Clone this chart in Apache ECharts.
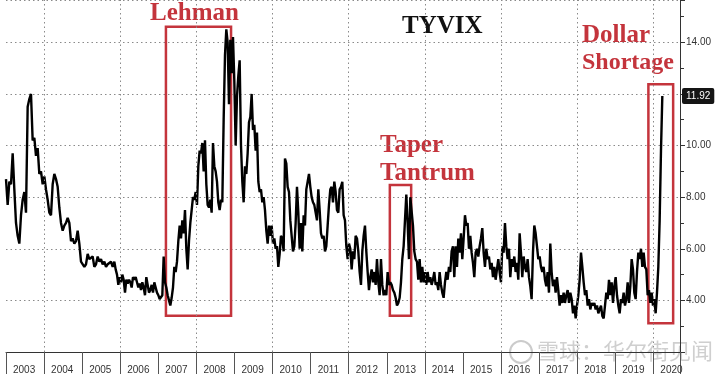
<!DOCTYPE html>
<html>
<head>
<meta charset="utf-8">
<script src="https://cdn.jsdelivr.net/npm/echarts@6/dist/echarts.min.js"></script>
<style>
html,body{margin:0;padding:0;background:#fff;}
#chart{width:720px;height:379px;}
</style>
</head>
<body>
<div id="chart"></div>
<script>
// TYVIX readings, evenly spaced observations within each segment
const start2003 = 2003.000, step2003 = 0.04377;
const tyvix2003 = [8.7, 7.7, 8.6, 8.5, 9.7, 8.3, 7.0, 6.5, 6.2, 7.3,
  7.9, 8.2, 7.4, 11.5, 11.8, 12.0, 10.2, 10.3, 9.6, 9.9,
  8.9, 9.0, 8.5, 8.8, 8.3, 7.9, 7.4, 7.3, 8.5, 8.9,
  8.7, 8.4, 7.6, 7.0, 6.7, 6.9, 7.0, 7.2, 7.0, 6.3,
  6.4, 6.2, 6.3, 6.7, 6.2, 5.5, 5.5, 5.3, 5.4, 5.8,
  5.6, 5.6, 5.7, 5.3, 5.4, 5.7, 5.5, 5.6, 5.4, 5.5,
  5.3, 5.4, 5.4, 5.5, 5.3, 5.5];
const step = 0.03501;
const start2005 = 2005.880;
const tyvix2005 = [5.2, 5.0, 4.6, 4.9, 4.7, 5.0, 4.8, 4.3, 4.8, 4.65,
  4.8, 4.7, 4.5, 4.9, 4.8, 4.9, 4.7, 4.5, 4.65, 4.4,
  4.7, 4.5, 4.2, 4.9, 4.6, 4.3, 4.4, 4.6, 4.3, 4.7,
  4.5, 4.3, 4.2, 4.05, 4.0, 4.2, 5.7, 4.7, 4.5, 4.2,
  4.0, 3.8, 4.1, 4.5, 5.3, 5.1, 5.5, 6.3, 6.9, 6.4,
  7.1, 6.6, 7.5, 6.0, 5.2, 6.3, 7.0, 7.5, 8.0, 7.9,
  8.2, 7.7, 9.2, 9.8, 9.7, 10.1, 9.0, 10.2, 8.5, 7.7,
  7.6, 7.9, 7.4, 10.1, 9.2, 9.0, 8.6, 7.8, 7.5, 7.9,
  7.8, 11.0, 13.5, 14.5, 14.0];
const start2008 = 2008.856;
const tyvix2008 = [11.6, 14.1, 12.8, 14.2, 12.5, 10.0, 11.9, 12.7, 13.3, 10.0,
  8.6, 7.8, 9.2, 8.9, 9.7, 10.9, 11.1, 12.0, 10.6, 10.8,
  9.8, 10.5, 8.6, 8.2, 8.3, 7.8, 8.0, 7.5, 6.7, 6.2,
  6.9, 6.5, 6.9, 6.2, 6.4, 6.0, 6.1, 5.3, 5.8, 6.5,
  6.4, 5.9, 9.5, 9.3, 8.4, 8.2, 7.1, 7.1, 5.9, 6.1,
  7.0, 8.4, 7.4, 6.0, 7.0, 5.9, 7.3, 6.9, 8.3, 8.6,
  8.9, 8.4, 8.0, 7.8, 7.7, 7.4, 7.1, 8.3, 7.5, 6.6,
  6.4, 6.5, 5.9, 6.1, 6.9, 7.7, 8.3, 8.4, 7.8, 8.6,
  8.2, 7.5, 7.4, 8.3];
const start2011 = 2011.797;
const tyvix2011 = [8.4, 8.6, 7.3, 7.1, 6.1, 5.6, 6.2, 6.0, 5.2, 5.9,
  5.6, 6.5, 6.4, 5.9, 5.1, 4.6, 5.9, 6.5, 6.9, 5.9,
  5.1, 4.4, 4.9, 5.2, 4.7, 5.1, 4.6, 5.6, 4.7, 4.2,
  5.6, 4.6, 4.2, 4.4, 4.2, 5.1, 4.6, 4.7, 4.6, 4.4,
  4.3, 4.1, 3.8, 3.9, 4.1, 4.7, 5.6, 6.1, 7.1, 8.1,
  7.0, 5.6, 8.0, 8.0, 6.9, 5.9, 5.6, 5.5, 4.8, 5.6,
  4.7, 5.3, 4.7, 5.1, 4.6, 5.1, 4.7, 4.9, 4.6, 4.8,
  5.1, 4.6, 4.7, 4.4, 5.1, 4.6, 4.3, 4.1, 4.7, 5.1,
  4.8, 5.3, 5.1, 5.9, 6.1];
const start2014 = 2014.773;
const tyvix2014 = [4.9, 6.1, 5.3, 6.4, 5.85, 6.6, 5.6, 6.4, 7.3, 6.9,
  7.0, 6.0, 6.5, 5.85, 5.45, 4.9, 5.85, 6.0, 5.7, 6.1,
  6.4, 6.8, 5.85, 5.3, 6.0, 5.6, 5.7, 5.2, 5.45, 4.9,
  5.3, 4.8, 5.2, 5.6, 5.1, 4.7, 6.1, 5.85, 7.0, 6.1,
  5.6, 6.0, 4.9, 5.6, 5.3, 5.7, 5.1, 5.45, 4.8, 6.6,
  5.85, 4.9, 5.7, 5.3, 5.1, 5.6, 4.9, 4.55, 4.05, 5.85,
  6.9, 6.6, 6.1, 5.6, 5.7, 5.3, 5.1, 5.3, 4.8, 4.55,
  5.1, 4.3, 6.2, 5.1, 4.55, 4.8, 4.3, 4.9, 4.4, 3.8,
  4.2, 3.9, 4.3, 3.9, 4.2];
const start2017 = 2017.750;
const tyvix2017 = [4.4, 3.9, 4.3, 4.05, 3.5, 3.8, 3.3, 3.8, 4.2, 4.8,
  5.85, 5.3, 4.7, 4.2, 4.4, 3.8, 4.05, 3.65, 3.9, 3.8,
  3.9, 3.65, 3.8, 3.5, 3.65, 3.8, 3.4, 3.3, 3.8, 4.3,
  4.05, 4.8, 4.2, 4.7, 3.9, 4.55, 4.9, 4.2, 3.8, 3.5,
  4.05, 3.9, 4.3, 3.8, 4.05, 4.7, 3.9, 4.55, 5.6, 5.2,
  4.3, 4.05, 5.1, 5.85, 5.6, 6.0, 5.3, 5.85, 5.3, 5.2,
  4.2, 4.4, 3.9, 4.3, 3.8, 4.05, 3.5, 4.3, 5.3, 7.1,
  9.8, 11.92];

const gridYears = [2004, 2006, 2008, 2010, 2012, 2014, 2016, 2018, 2020];
// annotation boxes: [xFrom, xTo, yTop, yBottom]
const boxLehman = [2007.20, 2008.91, 14.6, 3.40];
const boxTaper = [2013.08, 2013.64, 8.47, 3.40];
const boxDollar = [2019.87, 2020.52, 12.38, 3.11];

function seg(s, st, vals) { return vals.map((v, i) => [+(s + i * st).toFixed(4), v]); }
const data = [].concat(
  seg(start2003, step2003, tyvix2003),
  seg(start2005, step, tyvix2005),
  seg(start2008, step, tyvix2008),
  seg(start2011, step, tyvix2011),
  seg(start2014, step, tyvix2014),
  seg(start2017, step, tyvix2017)
);
const lastVal = tyvix2017[tyvix2017.length - 1];

const RED = '#c4343c';
const chart = echarts.init(document.getElementById('chart'), null, {renderer: 'canvas'});
const boxArea = b => [{coord: [b[0], b[2]]}, {coord: [b[1], b[3]]}];

chart.setOption({
  animation: false,
  backgroundColor: '#fff',
  grid: {left: 6, right: 40, top: 0, bottom: 27, containLabel: false},
  xAxis: {
    type: 'value', min: 2003, max: 2020.7, interval: 1,
    axisLine: {lineStyle: {color: '#333', width: 1}},
    axisTick: {length: 22, lineStyle: {color: '#555'}},
    splitLine: {show: false},
    axisLabel: {
      formatter: v => Number.isInteger(v) ? String(v) : '',
      color: '#333', fontSize: 10, fontFamily: 'Liberation Sans',
      margin: 13, align: 'left', padding: [0, 0, 0, 7]
    }
  },
  yAxis: {
    type: 'value', position: 'right', min: 2, max: 15.64, interval: 2,
    axisLine: {show: true, lineStyle: {color: '#333', width: 1}},
    axisTick: {show: true, length: 5, lineStyle: {color: '#333'}},
    minorTick: {show: true, splitNumber: 2, length: 4, lineStyle: {color: '#333'}},
    splitLine: {show: true, lineStyle: {color: '#8a8a8a', type: [1.5, 3], width: 1}},
    axisLabel: {
      formatter: v => (v >= 3.9 && v <= 14.1 && Math.abs(v - 12) > 0.01) ? v.toFixed(2) : '',
      color: '#333', fontSize: 10, fontFamily: 'Liberation Sans', margin: 6
    }
  },
  series: [{
    type: 'line', data: data, showSymbol: false, clip: false,
    lineStyle: {color: '#000', width: 2.4},
    markLine: {
      silent: true, symbol: ['none', 'none'],
      data: gridYears.map(y => ({
        xAxis: y,
        lineStyle: {color: '#8a8a8a', type: [1.5, 3], width: 1},
        label: {show: false}
      })).concat([{
        yAxis: lastVal,
        lineStyle: {color: 'rgba(0,0,0,0)', width: 1},
        label: {
          show: true, position: 'end', distance: 2,
          formatter: lastVal.toFixed(2),
          color: '#fff', backgroundColor: '#151515',
          fontSize: 10, fontFamily: 'Liberation Sans',
          padding: [3, 4, 3, 4], borderRadius: 2
        }
      }])
    },
    markArea: {
      silent: true,
      itemStyle: {color: 'rgba(0,0,0,0)', borderColor: RED, borderWidth: 2.5},
      data: [boxArea(boxLehman), boxArea(boxTaper), boxArea(boxDollar)]
    }
  }],
  graphic: [
    {type: 'text', left: 150, top: 1, style: {text: 'Lehman', font: 'bold 25px "Liberation Serif"', fill: RED}},
    {type: 'text', left: 402, top: 14, style: {text: 'TYVIX', font: 'bold 25px "Liberation Serif"', fill: '#111'}},
    {type: 'text', left: 380, top: 133, style: {text: 'Taper', font: 'bold 25px "Liberation Serif"', fill: RED}},
    {type: 'text', left: 380, top: 161, style: {text: 'Tantrum', font: 'bold 25px "Liberation Serif"', fill: RED}},
    {type: 'text', left: 582, top: 23, style: {text: 'Dollar', font: 'bold 25px "Liberation Serif"', fill: RED}},
    {type: 'text', left: 582, top: 51, style: {text: 'Shortage', font: 'bold 24px "Liberation Serif"', fill: RED}},
    {type: 'circle', shape: {cx: 521, cy: 352, r: 11}, style: {fill: 'none', stroke: 'rgba(160,160,160,0.55)', lineWidth: 2}},
    {type: 'text', left: 537, top: 340, style: {text: '雪球：华尔街见闻', font: '22px "Noto Sans CJK SC"', fill: 'rgba(160,160,160,0.5)'}}
  ]
});
</script>
</body>
</html>
